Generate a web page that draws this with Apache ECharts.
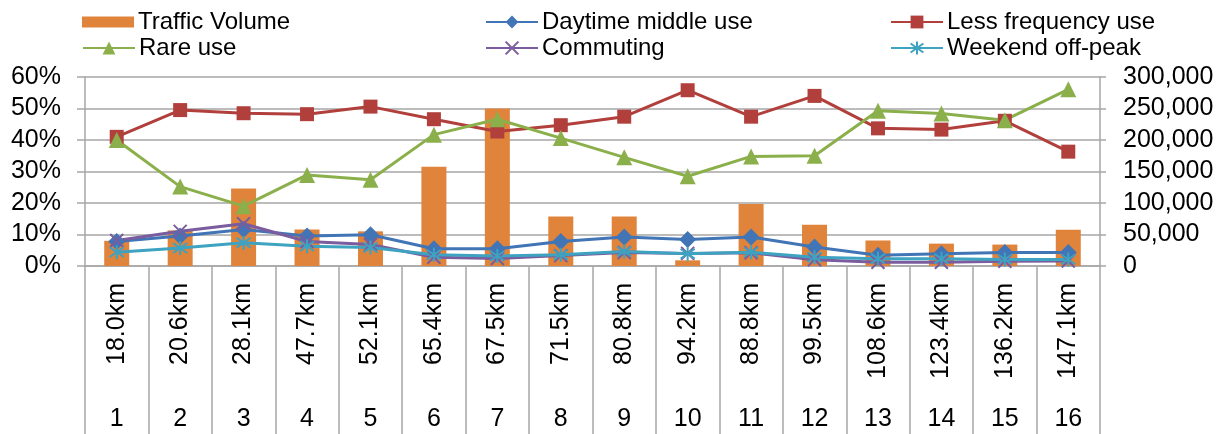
<!DOCTYPE html>
<html>
<head>
<meta charset="utf-8">
<script src="https://cdn.jsdelivr.net/npm/echarts@6/dist/echarts.min.js"></script>
<style>
  html, body { margin: 0; padding: 0; background: #fff; }
  #chart { width: 1227px; height: 434px; }
</style>
</head>
<body>
<div id="chart"></div>
<script>
// Section distances and section numbers along the route
const distances = ['18.0km','20.6km','28.1km','47.7km','52.1km','65.4km','67.5km','71.5km','80.8km','94.2km','88.8km','99.5km','108.6km','123.4km','136.2km','147.1km'];
const sections = ['1','2','3','4','5','6','7','8','9','10','11','12','13','14','15','16'];

// Traffic volume (right axis)
const trafficVolume = [40000, 56500, 123000, 58000, 55000, 157500, 250000, 78500, 78500, 9000, 98500, 65500, 40500, 35500, 34000, 57500];

// User-type shares in percent (left axis)
const daytimeMiddle = [7.8, 9.5, 11.6, 9.5, 9.9, 5.5, 5.5, 7.8, 9.2, 8.4, 9.2, 6.0, 3.4, 3.9, 4.3, 4.3];
const lessFrequency = [41.0, 49.5, 48.5, 48.2, 50.6, 46.6, 42.7, 44.7, 47.4, 55.8, 47.4, 54.0, 43.7, 43.3, 46.1, 36.3];
const rareUse = [40.0, 25.2, 19.0, 28.9, 27.4, 41.7, 46.6, 40.6, 34.5, 28.5, 34.8, 35.0, 49.3, 48.4, 46.3, 56.1];
const commuting = [8.1, 11.0, 13.4, 7.8, 6.8, 2.8, 2.4, 3.3, 4.3, 4.0, 4.2, 2.0, 1.2, 1.2, 1.5, 1.6];
const weekendOffPeak = [4.4, 5.7, 7.4, 6.3, 5.9, 3.6, 3.2, 3.6, 4.6, 3.9, 4.4, 2.8, 2.3, 2.3, 2.1, 2.1];

const FONT = '"Liberation Sans", Arial, sans-serif';
const GRID_GRAY = '#a6a6a6';
const C = {
  bar: '#e0833b',
  blue: '#4175b6',
  red: '#b1403d',
  green: '#8bb04b',
  purple: '#7a5c9f',
  teal: '#3ea2c1'
};
const X_PATH = 'path://M0,0 L10,10 M10,0 L0,10';
const STAR_PATH = 'path://M5,0 L5,10 M0.8,1.5 L9.2,8.5 M9.2,1.5 L0.8,8.5';

function legendAt(name, left, top, opts) {
  return Object.assign({
    data: [name],
    left: left,
    top: top,
    itemWidth: 52,
    itemHeight: 16,
    itemGap: 0,
    selectedMode: false,
    textStyle: { fontFamily: FONT, fontSize: 24, color: '#000', padding: [0, 0, 0, -1] }
  }, opts || {});
}

function lineSeries(name, data, color, symbol, size, extra) {
  return Object.assign({
    name: name,
    type: 'line',
    yAxisIndex: 0,
    data: data,
    symbol: symbol,
    symbolSize: size,
    color: color,
    lineStyle: { width: 3, color: color },
    itemStyle: { color: color, borderColor: color, borderWidth: 0 },
    emphasis: { disabled: true },
    animation: false
  }, extra || {});
}

const chart = echarts.init(document.getElementById('chart'), null, { renderer: 'canvas' });

chart.setOption({
  animation: false,
  legend: [
    legendAt('Traffic Volume', 77, 5, { itemHeight: 11, icon: 'rect' }),
    legendAt('Daytime middle use', 480, 5),
    legendAt('Less frequency use', 885, 5),
    legendAt('Rare use', 77, 31),
    legendAt('Commuting', 480, 31),
    legendAt('Weekend off-peak', 885, 31)
  ],
  grid: { left: 85, right: 127, top: 77, bottom: 168, containLabel: false },
  xAxis: [
    {
      type: 'category',
      data: distances,
      position: 'bottom',
      boundaryGap: true,
      axisLine: { show: true, lineStyle: { color: GRID_GRAY, width: 1.5 } },
      axisTick: { show: true, interval: 0, length: 170, lineStyle: { color: GRID_GRAY, width: 1.5 } },
      axisLabel: { interval: 0, rotate: 90, margin: 17, fontFamily: FONT, fontSize: 25, color: '#000' },
      splitLine: { show: false }
    },
    {
      type: 'category',
      data: sections,
      position: 'bottom',
      boundaryGap: true,
      axisLine: { show: false },
      axisTick: { show: false },
      axisLabel: { interval: 0, margin: 141, fontFamily: FONT, fontSize: 25, color: '#000' },
      splitLine: { show: false }
    }
  ],
  yAxis: [
    {
      type: 'value',
      min: 0, max: 60, interval: 10,
      position: 'left',
      axisLine: { show: true, lineStyle: { color: GRID_GRAY, width: 1.5 } },
      axisTick: { show: true, length: 8, lineStyle: { color: GRID_GRAY, width: 1.5 } },
      axisLabel: { formatter: '{value}%', margin: 24, fontFamily: FONT, fontSize: 25, color: '#000' },
      splitLine: { show: true, lineStyle: { color: GRID_GRAY, width: 1.5 } }
    },
    {
      type: 'value',
      min: 0, max: 300000, interval: 50000,
      position: 'right',
      axisLine: { show: true, lineStyle: { color: GRID_GRAY, width: 1.5 } },
      axisTick: { show: true, length: 6, lineStyle: { color: GRID_GRAY, width: 1.5 } },
      axisLabel: {
        formatter: v => v.toLocaleString('en-US'),
        margin: 23, fontFamily: FONT, fontSize: 25, color: '#000'
      },
      splitLine: { show: false }
    }
  ],
  series: [
    {
      name: 'Traffic Volume',
      type: 'bar',
      yAxisIndex: 1,
      data: trafficVolume,
      barWidth: 25,
      itemStyle: { color: C.bar },
      emphasis: { disabled: true },
      animation: false
    },
    lineSeries('Daytime middle use', daytimeMiddle, C.blue, 'diamond', 17),
    lineSeries('Less frequency use', lessFrequency, C.red, 'rect', 14),
    lineSeries('Rare use', rareUse, C.green, 'triangle', 16),
    lineSeries('Commuting', commuting, C.purple, X_PATH, 13,
      { itemStyle: { color: 'none', borderColor: C.purple, borderWidth: 2 } }),
    lineSeries('Weekend off-peak', weekendOffPeak, C.teal, STAR_PATH, 14,
      { itemStyle: { color: 'none', borderColor: C.teal, borderWidth: 2 } })
  ]
});
</script>
</body>
</html>
